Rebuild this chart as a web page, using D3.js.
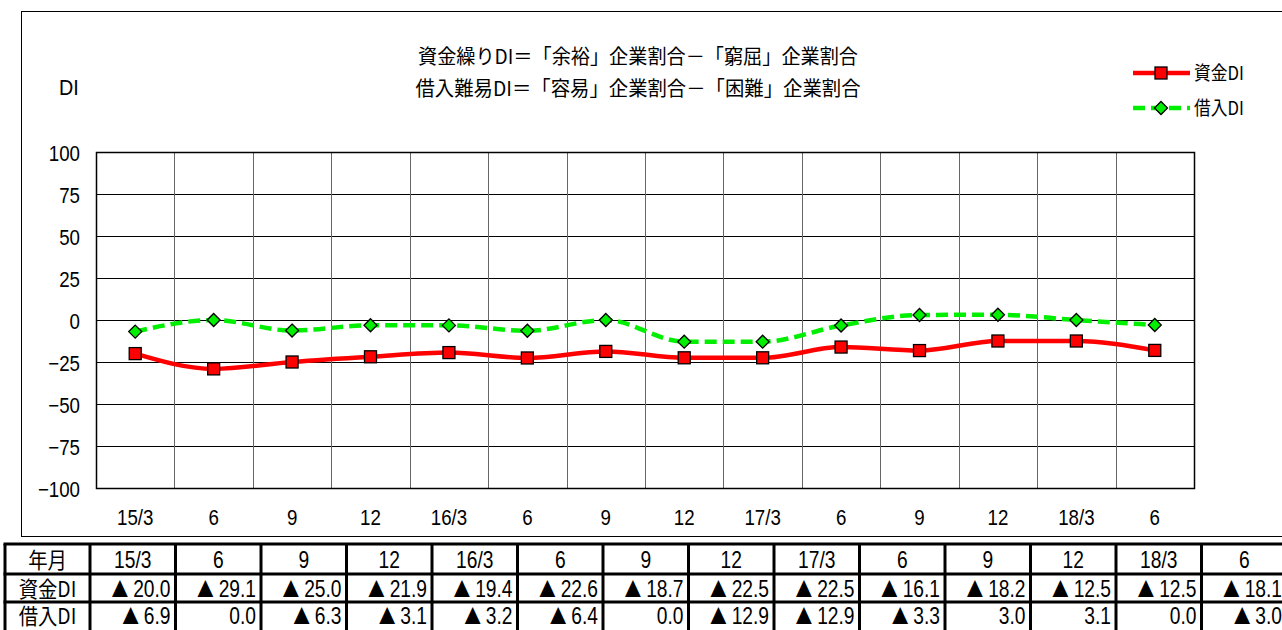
<!DOCTYPE html>
<html><head><meta charset="utf-8">
<script src="https://cdn.jsdelivr.net/npm/d3@7"></script>
<style>
html,body{margin:0;padding:0;background:#fff;}
svg{display:block;}
</style></head>
<body>
<svg id="c" width="1282" height="630"></svg>
<script>
const categories = ["15/3","6","9","12","16/3","6","9","12","17/3","6","9","12","18/3","6"];
const fundDI = [-20.0,-29.1,-25.0,-21.9,-19.4,-22.6,-18.7,-22.5,-22.5,-16.1,-18.2,-12.5,-12.5,-18.1];
const borrowDI = [-6.9,0.0,-6.3,-3.1,-3.2,-6.4,0.0,-12.9,-12.9,-3.3,3.0,3.1,0.0,-3.0];
const yTicks = [100,75,50,25,0,-25,-50,-75,-100];
const seriesNames = ["資金DI","借入DI"];
const titleLines = ["資金繰りDI＝「余裕」企業割合－「窮屈」企業割合","借入難易DI＝「容易」企業割合－「困難」企業割合"];
const tableHeader = "年月";

const LAT = "'Liberation Sans','Noto Sans CJK JP',sans-serif";
const JP = "'Noto Sans CJK JP','Liberation Sans',sans-serif";

const svg = d3.select("#c");
svg.append("rect").attr("x",21.5).attr("y",11.5).attr("width",1290).attr("height",525)
  .attr("fill","none").attr("stroke","#000").attr("stroke-width",1);

const plot = {l:96, t:152, r:1194, b:488};
const x = d3.scaleBand().domain(d3.range(categories.length)).range([plot.l, plot.r]);
const y = d3.scaleLinear().domain([-100,100]).range([plot.b, plot.t]);

function ntext(sel, px, py, t, size, anchor, sx, family){
  return sel.append("text").attr("transform",`translate(${px},${py}) scale(${sx},1)`)
    .attr("text-anchor",anchor).attr("font-family",family||LAT).attr("font-size",size)
    .attr("fill","#000").text(t);
}

const g = svg.append("g");
g.selectAll(".hg").data(yTicks).join("line")
  .attr("x1",plot.l).attr("x2",plot.r)
  .attr("y1",d=>Math.round(y(d))+0.5).attr("y2",d=>Math.round(y(d))+0.5)
  .attr("stroke","#000").attr("stroke-width",1);
g.selectAll(".vg").data(d3.range(1,categories.length)).join("line")
  .attr("x1",d=>Math.round(x(d))+0.5).attr("x2",d=>Math.round(x(d))+0.5)
  .attr("y1",plot.t).attr("y2",plot.b)
  .attr("stroke","#666").attr("stroke-width",1);
g.append("rect").attr("x",plot.l+0.5).attr("y",plot.t+0.5)
  .attr("width",plot.r-plot.l).attr("height",plot.b-plot.t)
  .attr("fill","none").attr("stroke","#000").attr("stroke-width",1.5);

const yAxis = d3.axisLeft(y).tickValues(yTicks).tickSize(0).tickPadding(0).tickFormat(d=> d<0 ? "−"+Math.abs(d) : String(d));
const ya = svg.append("g").attr("transform",`translate(${plot.l},0)`).call(yAxis);
ya.select(".domain").remove();
ya.selectAll("text").attr("x",null).attr("dy",null)
  .attr("transform","translate(-16,8) scale(0.85,1)")
  .attr("font-family",LAT).attr("font-size",22).attr("fill","#000");

const xAxis = d3.axisBottom(x).tickSize(0).tickPadding(0).tickFormat(i=>categories[i]);
const xa = svg.append("g").attr("transform",`translate(0,${plot.b})`).call(xAxis);
xa.select(".domain").remove();
xa.selectAll("text").attr("y",null).attr("dy",null)
  .attr("transform","translate(0,37) scale(0.85,1)")
  .attr("font-family",LAT).attr("font-size",22).attr("fill","#000");

const cx = i => x(i) + x.bandwidth()/2;
const line = d3.line().x((d,i)=>cx(i)).y(d=>y(d)).curve(d3.curveMonotoneX);

const red = "#ff0000", green = "#00ee00";
svg.append("path").attr("d",line(borrowDI)).attr("fill","none")
  .attr("stroke",green).attr("stroke-width",4.5).attr("stroke-dasharray","12,6");
svg.append("path").attr("d",line(fundDI)).attr("fill","none")
  .attr("stroke",red).attr("stroke-width",4.5);

function square(sel, px, py){
  sel.append("rect").attr("x",px-6).attr("y",py-6).attr("width",12).attr("height",12)
    .attr("fill",red).attr("stroke","#000").attr("stroke-width",1.3);
}
function diamond(sel, px, py){
  sel.append("path").attr("d",`M${px},${py-6.5}L${px+6.5},${py}L${px},${py+6.5}L${px-6.5},${py}Z`)
    .attr("fill",green).attr("stroke","#000").attr("stroke-width",1.3);
}
borrowDI.forEach((v,i)=>diamond(svg,cx(i),y(v)));
fundDI.forEach((v,i)=>square(svg,cx(i),y(v)));

titleLines.forEach((t,i)=>{
  svg.append("text").attr("x",638).attr("y",64+i*32).attr("text-anchor","middle")
    .attr("font-family",JP).attr("font-size",20).attr("fill","#000")
    .attr("textLength", i===0 ? 440 : 445).attr("lengthAdjust","spacingAndGlyphs").text(t);
});
ntext(svg,59,95,"DI",22,"start",0.9);

[[red,null,square],[green,"12,6",diamond]].forEach((s,i)=>{
  const ly = 73 + i*35;
  svg.append("line").attr("x1",1133).attr("x2",1190).attr("y1",ly).attr("y2",ly)
    .attr("stroke",s[0]).attr("stroke-width",4.5).attr("stroke-dasharray",s[1]);
  s[2](svg,1161,ly);
  ntext(svg,1194,ly+7,seriesNames[i],19,"start",0.88,JP);
});

// table
const colEdges = [5].concat(d3.range(categories.length+1).map(i=>90+i*85.5));
const rowEdges = [544,574,602,632];
const tg = svg.append("g");
const rows = [
  [tableHeader].concat(categories),
  [seriesNames[0]].concat(fundDI),
  [seriesNames[1]].concat(borrowDI)
];
rows.forEach((r,ri)=>{
  r.forEach((t,ci)=>{
    const x0 = colEdges[ci], x1 = colEdges[ci+1];
    const ty = (rowEdges[ri]+rowEdges[ri+1])/2 + (ri===2 ? 7 : 9);
    if(ci===0){
      ntext(tg,(x0+x1)/2,ty,t,22,"middle",0.88,JP);
    } else if(ri===0){
      ntext(tg,(x0+x1)/2,ty,t,24,"middle",0.8);
    } else {
      const txt = tg.append("text").attr("transform",`translate(${x1-5},${ty}) scale(0.8,1)`)
        .attr("text-anchor","end").attr("font-family",LAT).attr("font-size",24).attr("fill","#000");
      if(t<0){
        txt.append("tspan").attr("font-family",JP).attr("font-size",21).text("▲");
        txt.append("tspan").attr("dx",6).text(Math.abs(t).toFixed(1));
      } else {
        txt.text(t.toFixed(1));
      }
    }
  });
});
rowEdges.forEach(ry=>{
  tg.append("line").attr("x1",colEdges[0]-1.5).attr("x2",1290).attr("y1",ry).attr("y2",ry)
    .attr("stroke","#000").attr("stroke-width",3);
});
colEdges.forEach(cxv=>{
  tg.append("line").attr("x1",cxv).attr("x2",cxv).attr("y1",rowEdges[0]).attr("y2",632)
    .attr("stroke","#000").attr("stroke-width",3);
});
</script>
</body></html>
